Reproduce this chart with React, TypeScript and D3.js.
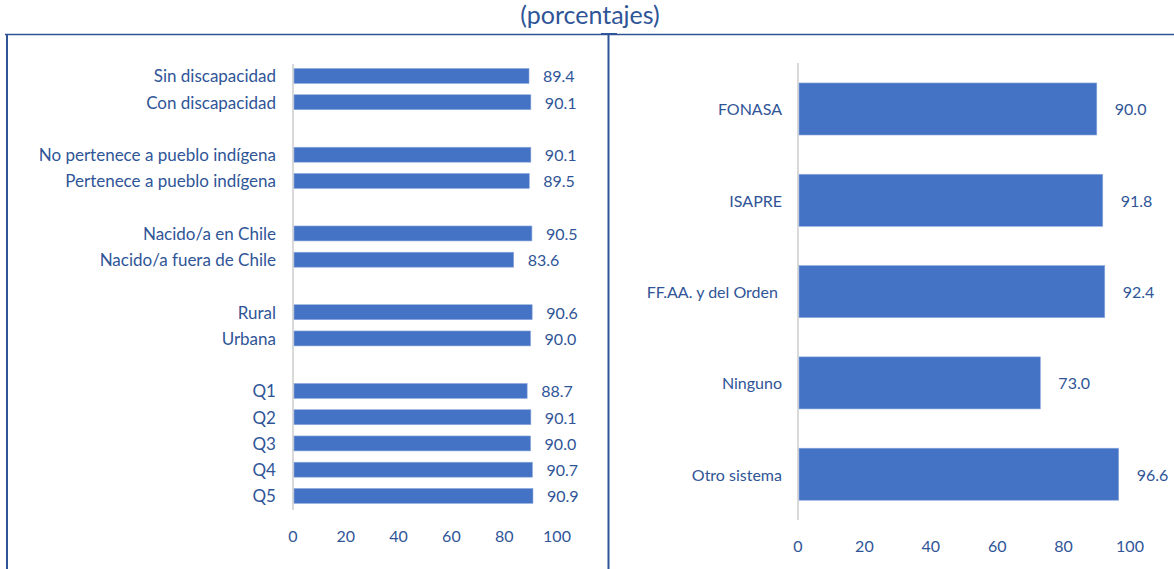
import React from "react";
import * as d3 from "d3";

// left panel: groups separated by an empty row
const leftGroups = [
  ["Sin discapacidad", "Con discapacidad"],
  ["No pertenece a pueblo indígena", "Pertenece a pueblo indígena"],
  ["Nacido/a en Chile", "Nacido/a fuera de Chile"],
  ["Rural", "Urbana"],
  ["Q1", "Q2", "Q3", "Q4", "Q5"],
];
const leftValues = [89.4, 90.1, 90.1, 89.5, 90.5, 83.6, 90.6, 90.0, 88.7, 90.1, 90.0, 90.7, 90.9];

const rightCategories = ["FONASA", "ISAPRE", "FF.AA. y del Orden ", "Ninguno", "Otro sistema"];
const rightValues = [90.0, 91.8, 92.4, 73.0, 96.6];

const tickValues = [0, 20, 40, 60, 80, 100];

const BLUE = "#4472C4";
const TEXT = "#2F5597";
const FONT = "Lato, 'Open Sans', sans-serif";

export default function App() {
  const W = 1174;
  const H = 569;

  // build left domain with spacer slots
  const leftDomain: string[] = [];
  leftGroups.forEach((g, i) => {
    if (i > 0) leftDomain.push(`gap${i}`);
    g.forEach((c) => leftDomain.push(c));
  });
  const leftCats = leftGroups.flat();

  const xL = d3.scaleLinear().domain([0, 100]).range([293, 557]);
  const yL = d3.scaleBand<string>().domain(leftDomain).range([57.2, 514.7]).padding(0.43);

  const xR = d3.scaleLinear().domain([0, 100]).range([798, 1130]);
  const yR = d3.scaleBand<string>().domain(rightCategories).range([43.7, 539.5]).padding(0.43);

  const fmt = d3.format(".1f");

  return (
    <svg
      width={W}
      height={H}
      style={{ position: "absolute", left: 0, top: 0, background: "#fff" }}
      fontFamily={FONT}
    >
      <text x={590} y={18} textAnchor="middle" dominantBaseline="middle" fontSize={25} fill={TEXT}>
        (porcentajes)
      </text>

      {/* frame lines */}
      <line x1={5} x2={W} y1={34.5} y2={34.5} stroke={TEXT} strokeWidth={1.5} />
      <line x1={7} x2={7} y1={34} y2={H} stroke={TEXT} strokeWidth={2} />
      <line x1={608.5} x2={608.5} y1={34} y2={H} stroke={TEXT} strokeWidth={2} />
      <line x1={601} x2={617} y1={34} y2={34} stroke={TEXT} strokeWidth={2} />

      {/* left panel */}
      <line x1={xL(0)} x2={xL(0)} y1={64} y2={510} stroke="#d9d9d9" strokeWidth={2} />
      {leftCats.map((c, i) => (
        <g key={c}>
          <rect
            x={xL(0) + 1}
            y={yL(c)!}
            width={xL(leftValues[i]) - xL(0) - 1}
            height={yL.bandwidth()}
            fill={BLUE}
            stroke="#8faadc"
            strokeWidth={0.6}
          />
          <text
            x={276}
            y={yL(c)! + yL.bandwidth() / 2}
            textAnchor="end"
            dominantBaseline="central"
            fontSize={17}
            fill={TEXT}
          >
            {c}
          </text>
          <text
            x={xL(leftValues[i]) + 14}
            y={yL(c)! + yL.bandwidth() / 2}
            dominantBaseline="central"
            fontSize={16}
            fill={TEXT}
          >
            {fmt(leftValues[i])}
          </text>
        </g>
      ))}
      {tickValues.map((t) => (
        <text key={t} x={xL(t)} y={535} textAnchor="middle" dominantBaseline="central" fontSize={16} fill={TEXT}>
          {t}
        </text>
      ))}

      {/* right panel */}
      <line x1={xR(0)} x2={xR(0)} y1={63} y2={520} stroke="#d9d9d9" strokeWidth={2} />
      {rightCategories.map((c, i) => (
        <g key={c}>
          <rect
            x={xR(0) + 1}
            y={yR(c)!}
            width={xR(rightValues[i]) - xR(0) - 1}
            height={yR.bandwidth()}
            fill={BLUE}
            stroke="#8faadc"
            strokeWidth={0.6}
          />
          <text
            x={782}
            y={yR(c)! + yR.bandwidth() / 2}
            textAnchor="end"
            dominantBaseline="central"
            fontSize={16}
            fill={TEXT}
            style={{ whiteSpace: "pre" }}
          >
            {c}
          </text>
          <text
            x={xR(rightValues[i]) + 18}
            y={yR(c)! + yR.bandwidth() / 2}
            dominantBaseline="central"
            fontSize={16}
            fill={TEXT}
          >
            {fmt(rightValues[i])}
          </text>
        </g>
      ))}
      {tickValues.map((t) => (
        <text key={t} x={xR(t)} y={545} textAnchor="middle" dominantBaseline="central" fontSize={16} fill={TEXT}>
          {t}
        </text>
      ))}
    </svg>
  );
}
